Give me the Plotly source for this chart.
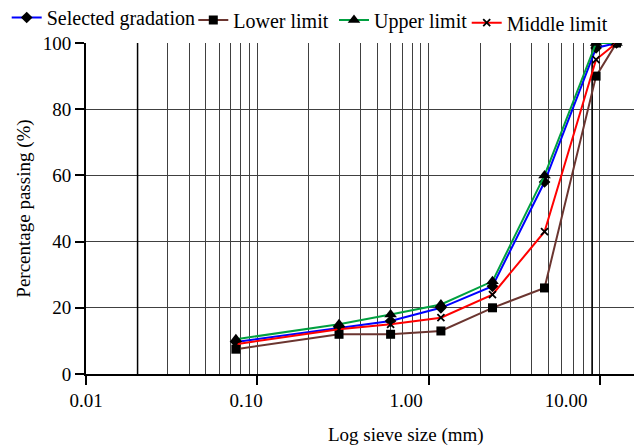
import math
import plotly.graph_objects as go

# ---- data ----
sieve_sizes = [0.075, 0.3, 0.6, 1.18, 2.36, 4.75, 9.5, 12.5]
selected_gradation = [9.7, 14, 16, 20, 26.5, 58, 98.5, 100]
lower_limit = [7.5, 12, 12, 13, 20, 26, 90, 100]
upper_limit = [10.5, 15, 18, 21, 28, 60, 100, 100]
middle_limit = [9, 13.5, 15, 17, 24, 43, 95, 100]

x_tick_values = [0.01, 0.1, 1, 10]
x_tick_labels = ["0.01", "0.10", "1.00", "10.00"]
y_tick_values = [0, 20, 40, 60, 80, 100]
dark_grid_values = [0.02, 9]

FONT = "Liberation Serif"
W, H = 634, 447
L, R, T, B = 86, 0, 43, 73
GRID = "#404040"

series = [
    ("Selected gradation", selected_gradation, "#0000FF", "diamond", 9, "legend"),
    ("Lower limit", lower_limit, "#6B3530", "square", 9, "legend2"),
    ("Upper limit", upper_limit, "#00A040", "triangle-up", 11, "legend3"),
    ("Middle limit", middle_limit, "#FF0000", "x-thin", 7, "legend4"),
]

fig = go.Figure()

# darker reference gridlines
for gv in dark_grid_values:
    fig.add_trace(go.Scatter(x=[gv, gv], y=[0, 100], mode="lines",
                             line=dict(color="black", width=1.5),
                             showlegend=False, hoverinfo="skip"))

for name, vals, color, sym, size, lg in series:
    marker = dict(symbol=sym, size=size, color="black")
    if sym == "x-thin":
        marker["line"] = dict(color="black", width=1.8)
    fig.add_trace(go.Scatter(
        x=sieve_sizes, y=vals, mode="lines+markers", name=name,
        line=dict(color=color, width=2), marker=marker, legend=lg,
    ))

# invisible trace for label axis
fig.add_trace(go.Scatter(x=[0.01], y=[0], xaxis="x2", mode="markers",
                         marker=dict(opacity=0), showlegend=False, hoverinfo="skip"))

x_right = -2 + (W - L - R) / 171.3
x2_right = -2 + (W - L - R) / 160.0

legend_pos = {"legend": (6.7, 17.5), "legend2": (193.3, 20), "legend3": (334, 20), "legend4": (466.7, 22.7)}
leg_layout = {}
for key, (px, py) in legend_pos.items():
    leg_layout[key] = dict(
        x=px / W, y=1 - py / H, xref="container", yref="container",
        xanchor="left", yanchor="middle", bgcolor="rgba(0,0,0,0)",
        borderwidth=0, font=dict(family=FONT, size=20, color="black"),
        orientation="h",
    )

fig.update_layout(
    width=W, height=H,
    margin=dict(l=L, r=R, t=T, b=B, autoexpand=False),
    paper_bgcolor="white", plot_bgcolor="white",
    font=dict(family=FONT, size=19, color="black"),
    xaxis=dict(
        type="log", range=[-2, x_right],
        tickmode="linear", tick0=0, dtick=1,
        showticklabels=False, ticks="outside", ticklen=9, tickwidth=2, tickcolor="black",
        showgrid=True, gridcolor=GRID, gridwidth=1,
        minor=dict(dtick="D1", showgrid=True, gridcolor=GRID, gridwidth=1, ticks=""),
        showline=True, linecolor="black", linewidth=2,
        zeroline=False,
    ),
    xaxis2=dict(
        type="log", range=[-2, x2_right], overlaying="x", anchor="y", side="bottom",
        tickmode="array", tickvals=x_tick_values, ticktext=x_tick_labels,
        ticks="outside", ticklen=9, tickcolor="rgba(0,0,0,0)",
        showgrid=False, showline=False, zeroline=False,
        tickfont=dict(family=FONT, size=19, color="black"),
    ),
    yaxis=dict(
        range=[0, 100], tickmode="array", tickvals=y_tick_values,
        ticks="outside", ticklen=9, tickwidth=2, tickcolor="black",
        showgrid=True, gridcolor=GRID, gridwidth=1,
        showline=True, linecolor="black", linewidth=2, zeroline=False,
        title=dict(text="Percentage passing (%)", font=dict(family=FONT, size=19), standoff=7),
        tickfont=dict(family=FONT, size=19, color="black"),
    ),
    annotations=[dict(
        text="Log sieve size (mm)", xref="paper", yref="paper",
        x=(405.5 - L) / (W - L - R), y=(H - B - 435) / (H - T - B),
        xanchor="center", yanchor="middle", showarrow=False,
        font=dict(family=FONT, size=19, color="black"),
    )],
    **leg_layout,
)

fig.write_html("out.html")
